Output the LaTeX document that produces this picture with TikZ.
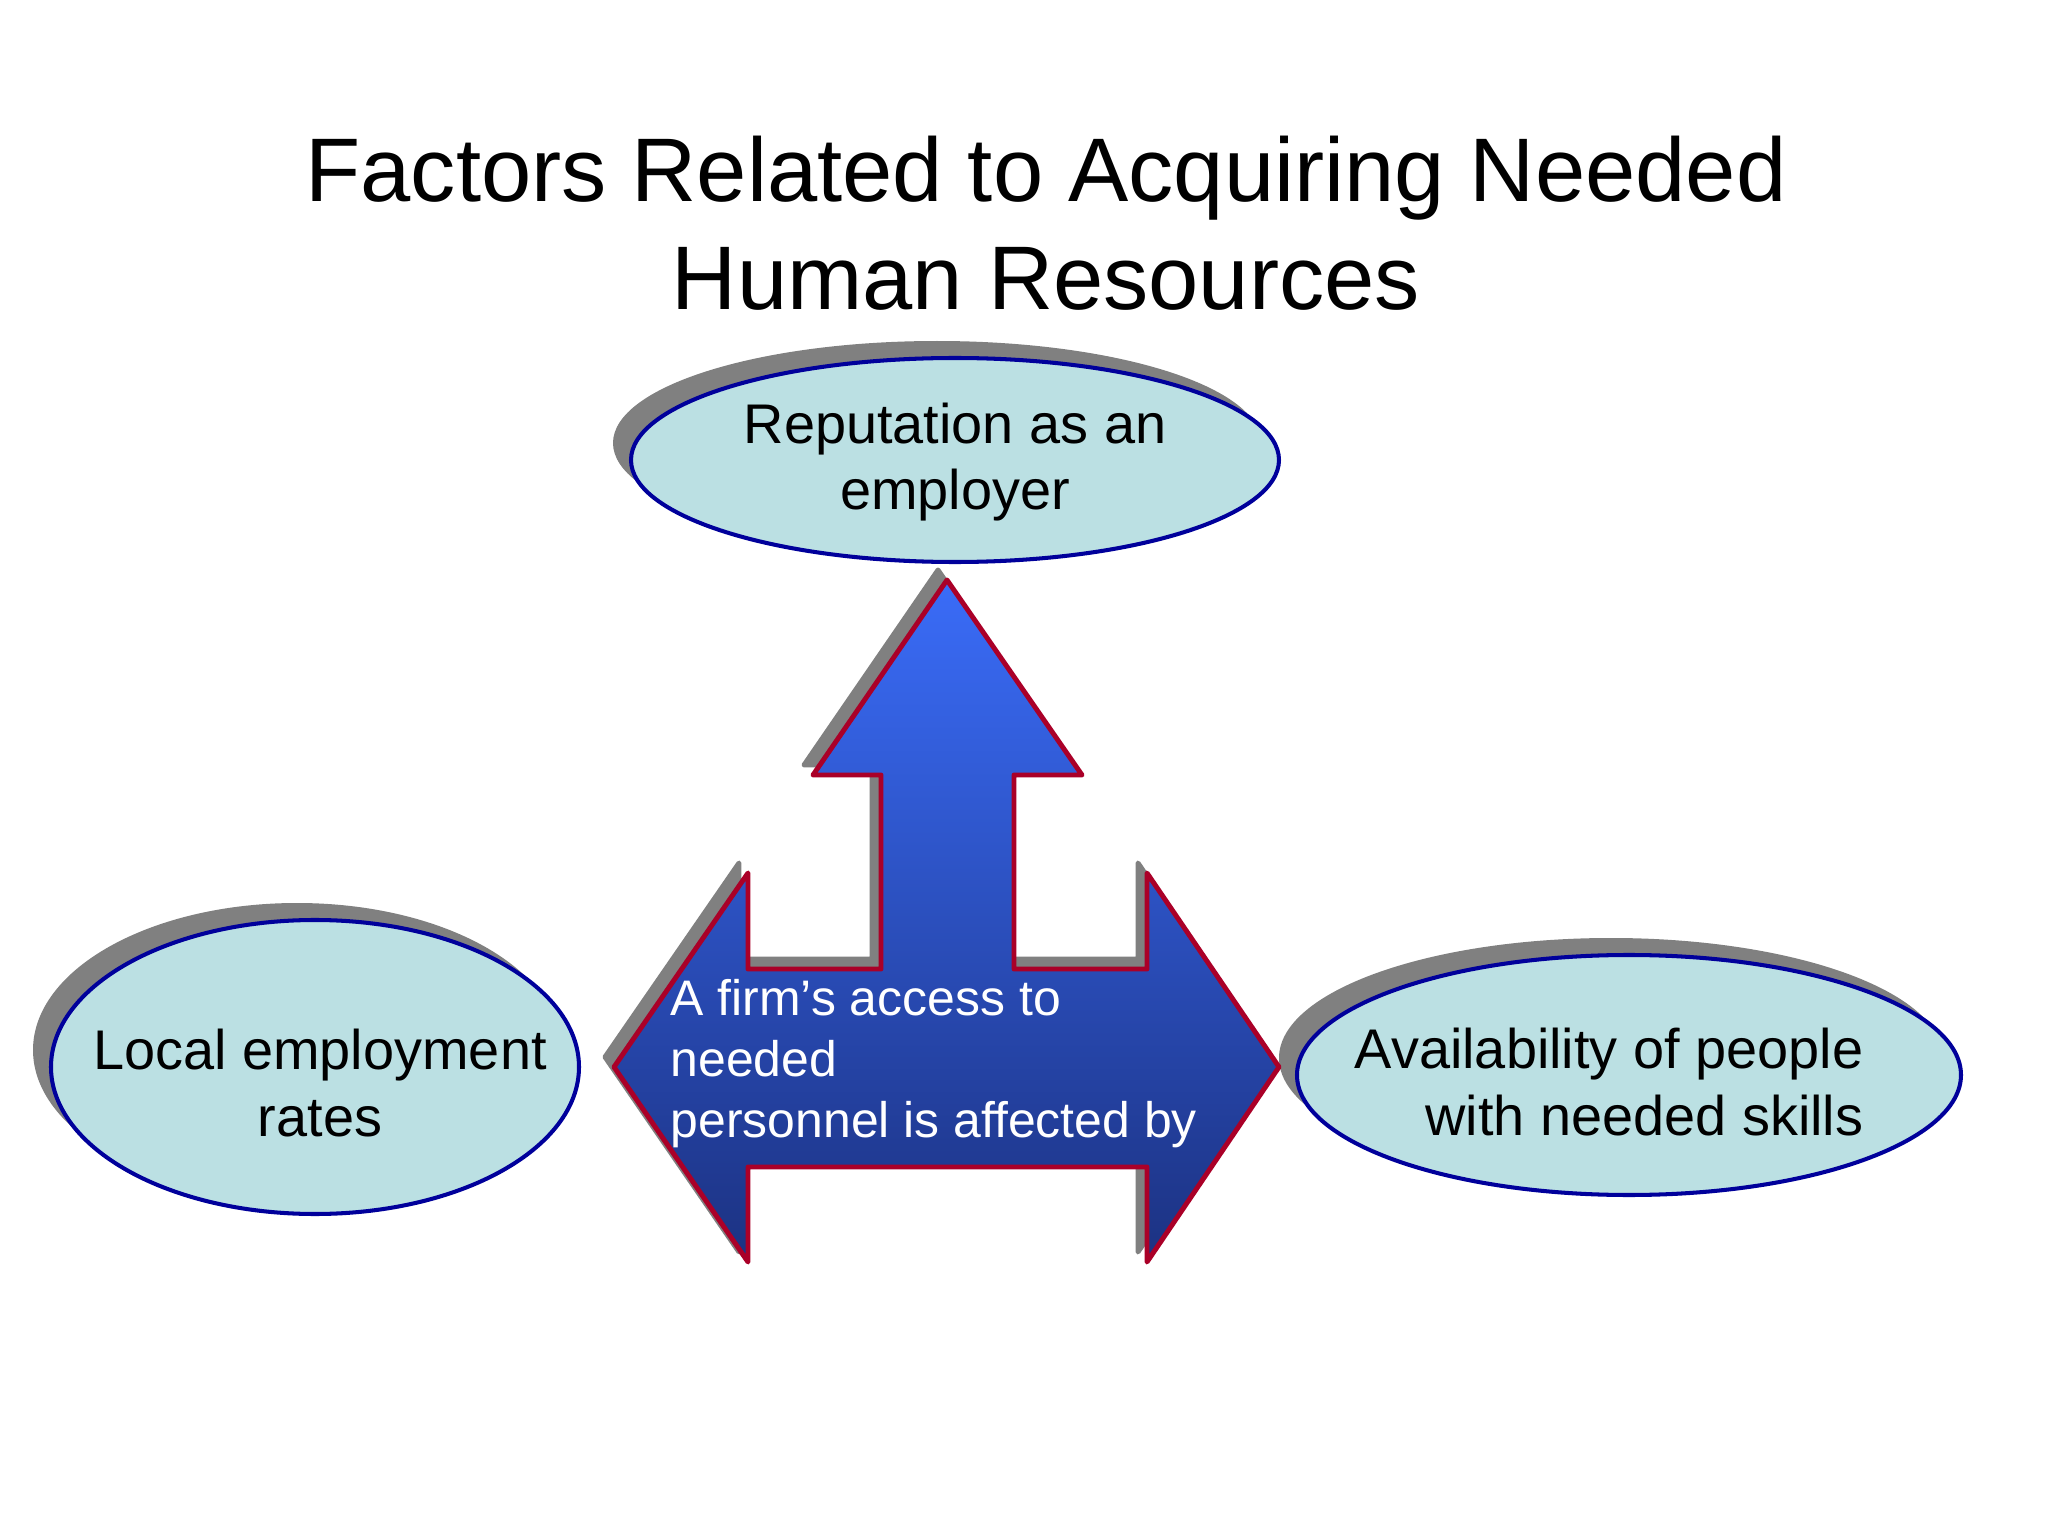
\documentclass[tikz,border=0pt]{standalone}
\usepackage{fontspec}
\setmainfont{Liberation Sans}
\usetikzlibrary{shapes.geometric,shadows}

\definecolor{ovalfill}{RGB}{187,224,227}
\definecolor{ovalline}{RGB}{0,0,155}
\definecolor{shadegray}{RGB}{128,128,128}
\definecolor{arrowred}{RGB}{170,0,40}
\definecolor{arrowtop}{RGB}{58,108,248}
\definecolor{arrowbottom}{RGB}{28,50,130}

\begin{document}
\begin{tikzpicture}[
  factor/.style={draw=ovalline, line width=1.15pt, fill=ovalfill, ellipse, inner sep=0pt,
    drop shadow={shadow xshift=-0.18cm, shadow yshift=0.17cm, fill=shadegray, opacity=1}},
  factortext/.style={font=\fontsize{15.9}{19}\selectfont, inner sep=0pt},
  arrowtext/.style={font=\fontsize{14.2}{17.35}\selectfont, text=white, inner sep=0pt, align=left}
]
\path[fill=white] (0,0) rectangle (20.48,-15.36);
\useasboundingbox (0,0) rectangle (20.48,-15.36);

\node[font=\fontsize{25.7}{30.7}\selectfont, align=center, inner sep=0pt] (title) at (10.46,-2.23)
  {Factors Related to Acquiring Needed\\Human Resources};

% the three factors
\node[factor, minimum width=6.48cm, minimum height=2.04cm] (rep) at (9.55,-4.60) {};
\node[factor, minimum width=5.28cm, minimum height=2.94cm] (local) at (3.15,-10.67) {};
\node[factor, minimum width=6.64cm, minimum height=2.40cm] (avail) at (16.29,-10.75) {};

\node[factortext, align=center] (reptext) at (9.55,-4.62) {Reputation as an\\employer};
\node[factortext, align=center] (localtext) at (3.20,-10.83) {Local employment\\rates};
\node[factortext, align=right, anchor=east] (availtext) at (18.64,-10.82) {Availability of people\\with needed skills};

% the arrow in the middle
\newcommand\accesspath{(9.47,-5.80) -- (10.82,-7.75) -- (10.14,-7.75) -- (10.14,-9.69) -- (11.47,-9.69)
  -- (11.47,-8.73) -- (12.79,-10.67) -- (11.47,-12.62) -- (11.47,-11.67) -- (7.48,-11.67)
  -- (7.48,-12.62) -- (6.14,-10.67) -- (7.48,-8.73) -- (7.48,-9.69) -- (8.81,-9.69)
  -- (8.81,-7.75) -- (8.13,-7.75) -- cycle}
\path[fill=shadegray, draw=shadegray, line width=1.4pt, line join=round, xshift=-0.09cm, yshift=0.1cm] \accesspath;
\path[draw=arrowred, line width=1.4pt, line join=round, top color=arrowtop, bottom color=arrowbottom] \accesspath;

\node[arrowtext, anchor=west] (access) at (6.70,-10.64) {A firm’s access to\\needed\\personnel is affected by};
\end{tikzpicture}
\end{document}
